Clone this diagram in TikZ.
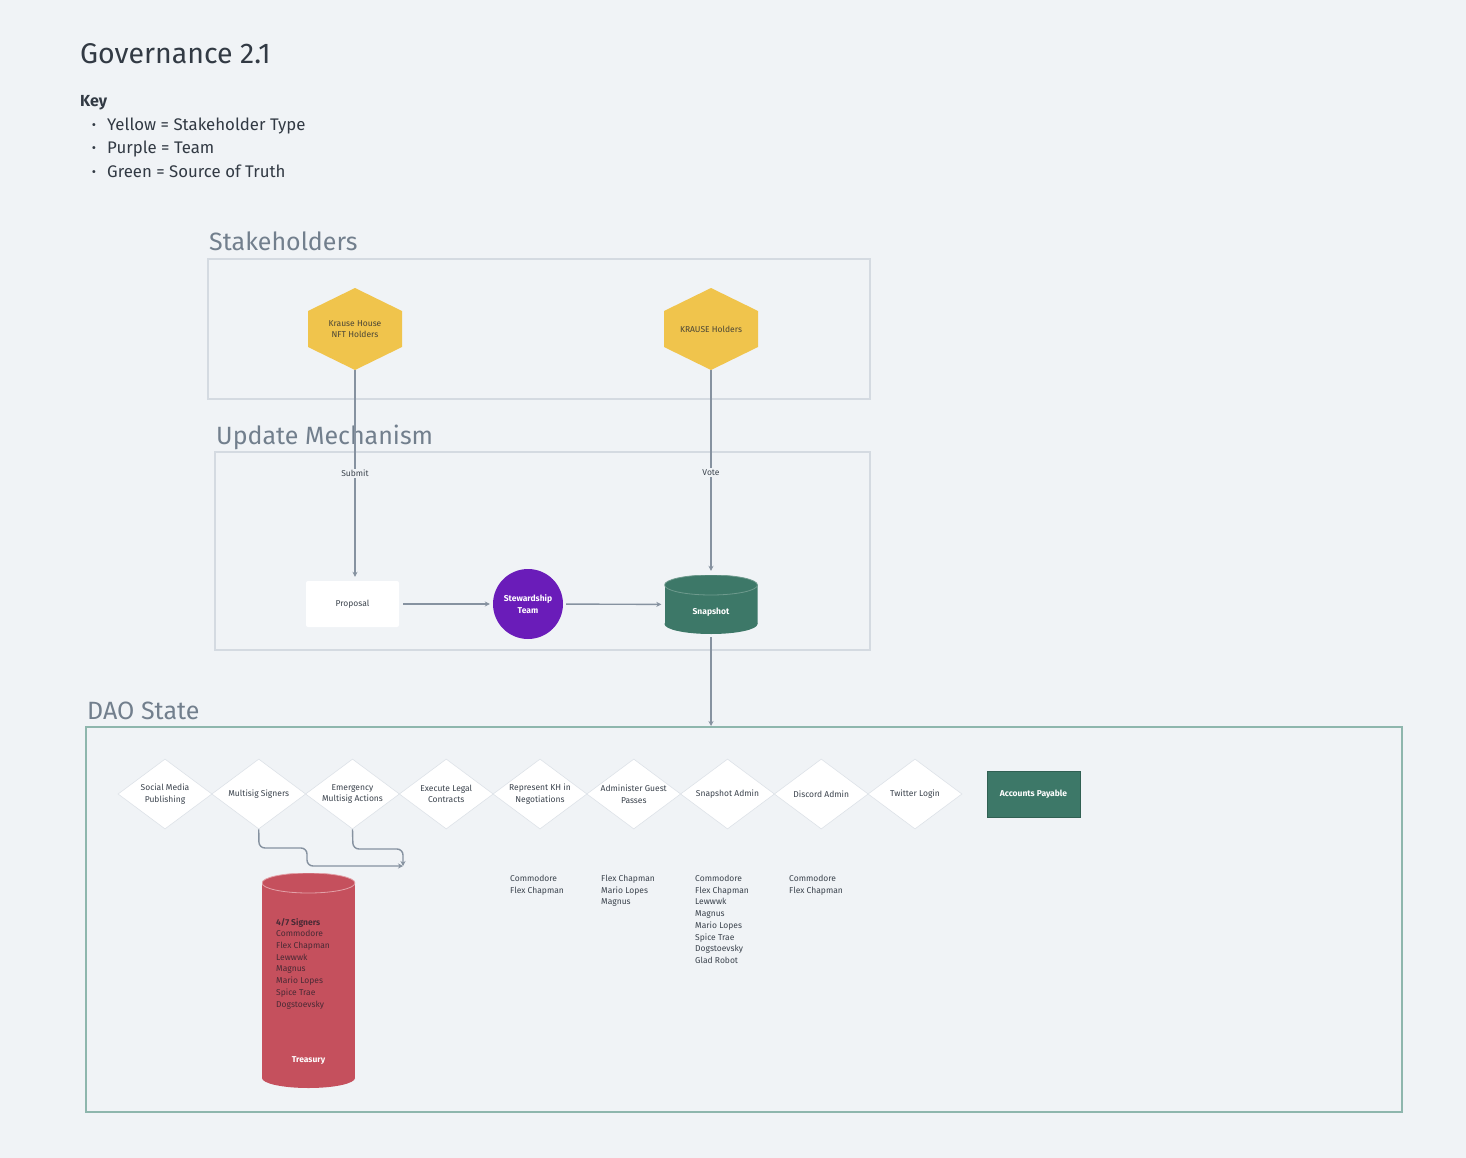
\documentclass[tikz,border=0pt]{standalone}
\usepackage{fontspec}
\setmainfont{Fira Sans}
\usetikzlibrary{shapes.geometric,
positioning,
arrows.meta}
\definecolor{bgcol}{HTML}{F0F3F6}
\definecolor{titlegray}{HTML}{323A44}
\definecolor{sectiongray}{HTML}{727F8D}
\definecolor{textdark}{HTML}{3B434D}
\definecolor{framegray}{HTML}{D4DAE1}
\definecolor{daoframe}{HTML}{8EB6AD}
\definecolor{arrowgray}{HTML}{8692A0}
\definecolor{hexyellow}{HTML}{F0C44C}
\definecolor{hextext}{HTML}{4A4536}
\definecolor{teampurple}{HTML}{6A1CB9}
\definecolor{truthgreen}{HTML}{3D7868}
\definecolor{truthrim}{HTML}{6E9A8D}
\definecolor{vaultred}{HTML}{C5505D}
\definecolor{vaultrim}{HTML}{E3A1A8}
\definecolor{vaulttext}{HTML}{4A2A35}
\definecolor{diagray}{HTML}{DDE2E8}
\newcommand\diafont{\fontsize{8.5}{11.7}\selectfont}
\newcommand\diabold{\fontsize{8.5}{11.7}\selectfont\bfseries}
\tikzset{
  % frame round a group of nodes
  frame/.style={draw=framegray, line width=1.3pt},
  section/.style={anchor=base west, inner sep=0pt, font=\fontsize{25}{30}\selectfont, text=sectiongray},
  % yellow stakeholder hexagon, pointy top
  hexnode/.style={minimum width=94pt, minimum height=82pt, inner sep=0pt,
    align=center, font=\diafont, text=hextext,
    path picture={
      \fill[hexyellow] (path picture bounding box.north)
        -- ([yshift=18pt]path picture bounding box.east)
        -- ([yshift=-18pt]path picture bounding box.east)
        -- (path picture bounding box.south)
        -- ([yshift=-18pt]path picture bounding box.west)
        -- ([yshift=18pt]path picture bounding box.west) -- cycle;
    }},
  % cylinder: #1 fill, #2 rim
  cyl/.style 2 args={minimum width=93pt, inner sep=0pt, text depth=0pt,
    font=\diabold, text=white,
    path picture={
      \fill[#1] ([yshift=-10pt]path picture bounding box.north west)
        rectangle ([yshift=10pt]path picture bounding box.south east);
      \fill[#1] ([yshift=10pt]path picture bounding box.south)
        ellipse [x radius=46.5pt, y radius=10pt];
      \fill[#1] ([yshift=-10pt]path picture bounding box.north)
        ellipse [x radius=46.5pt, y radius=10pt];
      \draw[#2, line width=.8pt] ([yshift=-10pt]path picture bounding box.north)
        ellipse [x radius=46.5pt, y radius=10pt];
    }},
  box/.style={rectangle, minimum width=93pt, minimum height=46pt, inner sep=0pt,
    font=\diafont, align=center},
  role/.style={diamond, aspect=1.34, draw=diagray, line width=.6pt, fill=white,
    inner sep=0pt, minimum width=94pt, minimum height=70pt,
    font=\diafont, text=textdark, align=center},
  names/.style={anchor=north west, inner sep=0pt, align=left,
    font=\diafont, text=textdark},
  conn/.style={draw=arrowgray, line width=1.4pt, -{Stealth[length=5pt,width=5pt]}},
  lbl/.style={fill=bgcol, font=\diafont, text=textdark, inner sep=1.5pt},
}
\begin{document}
\begin{tikzpicture}[x=1pt, y=-1pt]
  \useasboundingbox (0,0) rectangle (1466,1158);
  \fill[bgcol] (0,0) rectangle (1466,1158);

  % title and key
  \node[anchor=base west, inner sep=0pt, font=\fontsize{28.5}{34}\selectfont, text=titlegray]
    (title) at (80,64) {Governance 2.1};
  \node[anchor=base west, inner sep=0pt, font=\fontsize{16}{19}\selectfont\bfseries, text=titlegray]
    (key) at (80,107) {Key};
  \foreach \txt [count=\i] in {Yellow = Stakeholder Type, Purple = Team, Green = Source of Truth}{
    \node[anchor=base west, inner sep=0pt, font=\fontsize{16.8}{20}\selectfont, text=titlegray]
      (key\i) at (107,{107+23.5*\i}) {\txt};
    \node[anchor=base, inner sep=0pt, font=\fontsize{13}{14}\selectfont, text=titlegray]
      at (94,{106+23.5*\i}) {\textbullet};
  }

  % stakeholders
  \node[section] (stakehead) at (209,251) {Stakeholders};
  \draw[frame] (208,259) rectangle (870,399);
  \node[hexnode] (khnft) at (355,329) {Krause House\\NFT Holders};
  \node[hexnode] (krause) at (711,329) {KRAUSE Holders};

  % update mechanism
  \node[section] (updhead) at (216,444) {Update Mechanism};
  \draw[frame] (215,452) rectangle (870,650);
  \node[box, fill=white, rounded corners=2pt, text=textdark] (proposal) at (352.5,604) {Proposal};
  \node[circle, fill=teampurple, minimum size=70pt, inner sep=0pt, align=center,
    font=\diabold, text=white] (steward) at (528,604) {Stewardship\\Team};
  \node[cyl={truthgreen}{truthrim}, minimum height=59pt, text height=20.5pt]
    (snapshot) at (711,604.5) {Snapshot};

  % dao state
  \node[section] (daohead) at (87,719) {DAO State};
  \draw[daoframe, line width=1.3pt] (86,727) rectangle (1402,1112);
  \coordinate (daotop) at (711,726);
  \foreach \lbl [count=\i] in {Social Media\\Publishing, Multisig Signers,
    Emergency\\Multisig Actions, Execute Legal\\Contracts, Represent KH in\\Negotiations,
    Administer Guest\\Passes, Snapshot Admin, Discord Admin, Twitter Login}
    \node[role] (role\i) at ({165+93.75*(\i-1)},794) {\lbl};
  \node[box, fill=truthgreen, draw=truthgreen!80!black, line width=.4pt,
    font=\diabold, text=white] (payable) at (1033.5,794) {Accounts Payable};

  \node[cyl={vaultred}{vaultrim}, minimum height=215pt, text height=164pt]
    (treasury) at (308.5,980.5) {Treasury};
  \node[names, text=vaulttext] (signers) at (276,918)
    {\textbf{4/7 Signers}\\Commodore\\Flex Chapman\\Lewwwk\\Magnus\\Mario Lopes\\Spice Trae\\Dogstoevsky};
  \coordinate (treasin) at (403,866);

  \node[names] (negot) at (510,875) {Commodore\\Flex Chapman};
  \node[names] (guest) at (601,875) {Flex Chapman\\Mario Lopes\\Magnus};
  \node[names] (snapadm) at (695,875)
    {Commodore\\Flex Chapman\\Lewwwk\\Magnus\\Mario Lopes\\Spice Trae\\Dogstoevsky\\Glad Robot};
  \node[names] (discadm) at (789,875) {Commodore\\Flex Chapman};

  % connectors
  \draw[conn] (khnft.south) -- node[lbl] {Submit} ([yshift=4pt]khnft.south |- proposal.north);
  \draw[conn, shorten >=4pt] (krause.south) -- node[lbl] {Vote} (snapshot.north);
  \draw[conn, shorten <=4pt, shorten >=3pt] (proposal) -- (steward);
  \draw[conn, shorten <=3pt, shorten >=3pt] (steward) -- (snapshot);
  \draw[conn, shorten <=3pt] (snapshot.south) -- (daotop);
  \draw[conn, rounded corners=6pt] (role2.south) -- (259,848) -- (307,848) -- (307,866) -- (treasin);
  \draw[conn, rounded corners=6pt] (role3.south) -- (353,849) -| (treasin);
\end{tikzpicture}
\end{document}
